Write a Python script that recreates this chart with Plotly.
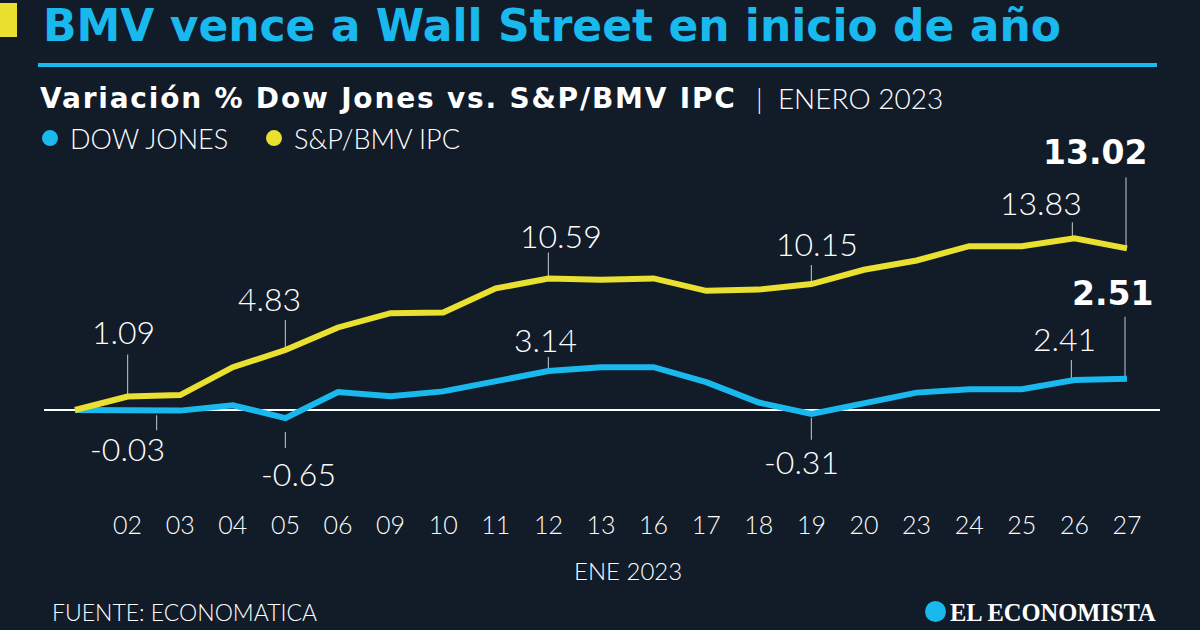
import plotly.graph_objects as go

# ---------------- data ----------------
dates = ["", "02", "03", "04", "05", "06", "09", "10", "11", "12", "13",
         "16", "17", "18", "19", "20", "23", "24", "25", "26", "27"]
ipc = [0, 1.09, 1.2, 3.45, 4.83, 6.65, 7.8, 7.85, 9.8, 10.59, 10.5,
       10.6, 9.6, 9.7, 10.15, 11.3, 12.05, 13.2, 13.2, 13.83, 13.02]
dow = [0, -0.03, -0.05, 0.38, -0.65, 1.45, 1.1, 1.5, 2.3, 3.14, 3.45,
       3.45, 2.25, 0.6, -0.31, 0.6, 1.4, 1.67, 1.67, 2.41, 2.51]
series_names = ["DOW JONES", "S&P/BMV IPC"]

# labelled points: (index, bold)
ipc_labels = [(1, False), (4, False), (9, False), (14, False), (19, False), (20, True)]
dow_labels = [(1, False), (4, False), (9, False), (14, False), (19, False), (20, True)]

# ---------------- style ----------------
W, H = 1200, 630
BG = "#121b28"
CYAN = "#19b9ee"
YELLOW = "#e9e02f"
WHITE = "#ffffff"
LEAD = "#a9aeb5"
FONT = "Lato"
BOLDFONT = "DejaVu Sans"

ML, MR, MT, MB = 44, 40, 150, 130
PW, PH = W - ML - MR, H - MT - MB


def px_x(px):
    return (px - ML) / PW


def px_y(py):
    return (H - MB - py) / PH


x_idx = list(range(len(dates)))

fig = go.Figure()
fig.add_trace(go.Scatter(x=x_idx, y=dow, mode="lines", line=dict(color=CYAN, width=6),
                         showlegend=False, hoverinfo="skip"))
fig.add_trace(go.Scatter(x=x_idx, y=ipc, mode="lines", line=dict(color=YELLOW, width=6),
                         showlegend=False, hoverinfo="skip"))
# legend entries (dots)
for name, col in zip(series_names, [CYAN, YELLOW]):
    fig.add_trace(go.Scatter(x=[None], y=[None], mode="markers", name=name,
                             marker=dict(color=col, size=19, symbol="circle")))

annotations = []
shapes = []

# label geometry: text shift (dx, dy) and leader line (ldx, l0, l1), pixels, up positive
ipc_geom = {
    1: (-4, 65, 0, 2, 42),
    4: (-16, 52, 0, 2, 30),
    9: (13, 43, 0, 1, 26),
    14: (6, 41, 0, 2, 19),
    19: (-33, 36, -2, 1, 16),
    20: (-32, 96, -1, 0, 71),
}
dow_geom = {
    1: (0, -38, 29, -5, -20),
    4: (13, -55, 0, -14, -30),
    9: (-3, 32, 0, 2, 14),
    14: (-10, -48, 0, -4, -26),
    19: (-10, 42, -3, 2, 20),
    20: (-15, 85, -2, 0, 62),
}

for vals, labels, geom in [(ipc, ipc_labels, ipc_geom), (dow, dow_labels, dow_geom)]:
    for idx, bold in labels:
        dx, dy, ldx, l0, l1 = geom[idx]
        v = vals[idx]
        txt = f"{v:.2f}"
        if bold:
            font = dict(family=BOLDFONT, size=33, color=WHITE, weight=700)
            txt = f"<b>{txt}</b>"
        else:
            font = dict(family=FONT, size=32, color=WHITE, weight=300)
        annotations.append(dict(
            x=idx, y=v, xref="x", yref="y", text=txt,
            showarrow=False, xshift=dx, yshift=dy, xanchor="center", yanchor="middle",
            font=font))
        shapes.append(dict(
            type="line", xref="x", yref="y", xsizemode="pixel", ysizemode="pixel",
            xanchor=idx, yanchor=v, x0=ldx, x1=ldx, y0=l0, y1=l1,
            line=dict(color=LEAD, width=1.2), layer="below"))

# title block
shapes.append(dict(type="rect", xref="paper", yref="paper",
                   x0=px_x(0), x1=px_x(17), y0=px_y(37), y1=px_y(3),
                   fillcolor=YELLOW, line=dict(width=0)))
shapes.append(dict(type="line", xref="paper", yref="paper",
                   x0=px_x(38), x1=px_x(1157), y0=px_y(65), y1=px_y(65),
                   line=dict(color=CYAN, width=4)))

annotations.append(dict(
    xref="paper", yref="paper", x=px_x(41), y=px_y(26), xanchor="left", yanchor="middle",
    text="<b>BMV vence a Wall Street en inicio de año</b>", showarrow=False,
    font=dict(family=BOLDFONT, size=44, color=CYAN, weight=700)))
annotations.append(dict(
    xref="paper", yref="paper", x=px_x(38), y=px_y(98), xanchor="left", yanchor="middle",
    text="<span style='letter-spacing:1.8px'><b>Variación % Dow Jones vs. S&P/BMV IPC</b></span>",
    showarrow=False, font=dict(family=BOLDFONT, size=28, color=WHITE, weight=700)))
annotations.append(dict(
    xref="paper", yref="paper", x=px_x(754), y=px_y(98), xanchor="left", yanchor="middle",
    text="|  ENERO 2023",
    showarrow=False, font=dict(family=FONT, size=28, color=WHITE, weight=300)))
annotations.append(dict(
    xref="paper", yref="paper", x=px_x(628), y=px_y(570), xanchor="center", yanchor="middle",
    text="ENE 2023", showarrow=False,
    font=dict(family=FONT, size=24, color=WHITE, weight=300)))
annotations.append(dict(
    xref="paper", yref="paper", x=px_x(50), y=px_y(612), xanchor="left", yanchor="middle",
    text="FUENTE: ECONOMATICA", showarrow=False,
    font=dict(family=FONT, size=23, color=WHITE, weight=300)))
annotations.append(dict(
    xref="paper", yref="paper", x=px_x(1158), y=px_y(612), xanchor="right", yanchor="middle",
    text="<b>EL ECONOMISTA</b>", showarrow=False,
    font=dict(family="Liberation Serif", size=24.5, color=WHITE)))
shapes.append(dict(type="circle", xref="paper", yref="paper",
                   x0=px_x(925), x1=px_x(946), y0=px_y(622), y1=px_y(601),
                   fillcolor=CYAN, line=dict(width=0)))

fig.update_layout(
    width=W, height=H,
    paper_bgcolor=BG, plot_bgcolor=BG,
    margin=dict(l=ML, r=MR, t=MT, b=MB, autoexpand=False),
    showlegend=True,
    legend=dict(orientation="h", xref="container", yref="container",
                x=30 / W, y=1 - 114 / H, xanchor="left", yanchor="top",
                font=dict(family=FONT, size=27, color=WHITE, weight=300),
                bgcolor="rgba(0,0,0,0)", itemwidth=30, tracegroupgap=0,
                entrywidth=179, entrywidthmode="pixels"),
    xaxis=dict(range=[-(75 - ML) / 52.6, 20 + (ML + PW - 1127) / 52.6],
               tickmode="array", tickvals=x_idx[1:], ticktext=dates[1:],
               showgrid=False, zeroline=False, showline=False, ticks="",
               tickfont=dict(family=FONT, size=25, color=WHITE, weight=300),
               ticklabelstandoff=8),
    yaxis=dict(range=[-(H - MB - 410) / 12.41, (410 - MT) / 12.41],
               showgrid=False, showticklabels=False, ticks="",
               zeroline=True, zerolinecolor=WHITE, zerolinewidth=2, showline=False),
    annotations=annotations,
    shapes=shapes,
)

fig.write_html("out.html", config={"displayModeBar": False},
               post_script="document.body.style.margin='0';document.body.style.overflow='hidden';")
